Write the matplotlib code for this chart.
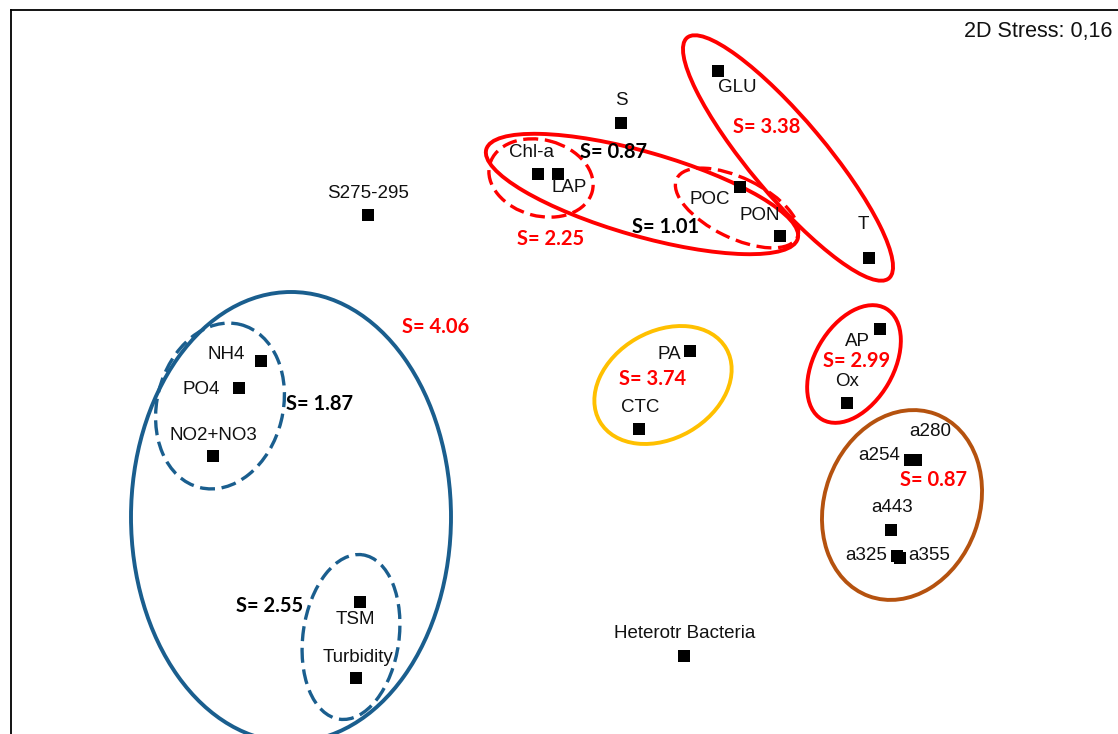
import matplotlib
matplotlib.use("Agg")
import matplotlib.pyplot as plt
from matplotlib.patches import Ellipse

# NMDS ordination (plot units, y grows downward)
names = ["S", "GLU", "Chl-a", "LAP", "POC", "PON", "S275-295", "T",
         "AP", "Ox", "PA", "CTC", "NH4", "PO4", "NO2+NO3",
         "a280", "a254", "a443", "a325", "a355",
         "TSM", "Turbidity", "Heterotr Bacteria"]
xs = [621, 718, 538, 558, 740, 780, 368, 869,
      880, 847, 690, 639, 261, 239, 213,
      916, 910, 891, 897, 900,
      360, 356, 684]
ys = [123, 71, 174, 174, 187, 236, 215, 258,
      329, 403, 351, 429, 361, 388, 456,
      460, 460, 530, 556, 558,
      602, 678, 656]

# label offsets from the point (dx, dy)
label_off = {
    "S": (0, -22), "GLU": (19, 17), "Chl-a": (-6, -21), "LAP": (11, 14),
    "POC": (-30, 13), "PON": (-20, -20), "S275-295": (0, -22), "T": (-6, -33),
    "AP": (-23, 13), "Ox": (0, -21), "PA": (-21, 4), "CTC": (1, -21),
    "NH4": (-35, -6), "PO4": (-38, 1), "NO2+NO3": (0, -21),
    "a280": (14, -29), "a254": (-31, -4), "a443": (1, -22),
    "a325": (-31, -1), "a355": (29, -3),
    "TSM": (-5, 17), "Turbidity": (2, -21), "Heterotr Bacteria": (1, -22),
}

# group ellipses: centre, width, height, angle
ell_cx = [291, 220, 351, 663, 854, 902, 788, 642, 541, 737]
ell_cy = [517, 406, 637, 385, 364, 505, 158, 194, 178, 208]
ell_w = [320, 126, 96, 146, 79, 155, 314, 324, 106, 134]
ell_h = [450, 168, 166, 107, 128, 194, 76, 84, 76, 60]
ell_ang = [0, 14, 8, -30, 30, 20, 50, 16, 15, 26]
ell_col = ["#1a5e8e", "#1a5e8e", "#1a5e8e", "#ffc000", "#ff0000",
           "#b5520f", "#ff0000", "#ff0000", "#ff0000", "#ff0000"]
ell_dash = [False, True, True, False, False, False, False, False, True, True]

# stress values of groups
s_text = ["S= 0.87", "S= 2.25", "S= 1.01", "S= 3.38", "S= 4.06",
          "S= 1.87", "S= 3.74", "S= 2.99", "S= 0.87", "S= 2.55"]
s_x = [614, 551, 666, 767, 436, 319, 653, 857, 933, 270]
s_y = [152, 239, 227, 127, 327, 404, 379, 361, 480, 606]
s_col = ["black", "#ff0000", "black", "#ff0000", "#ff0000",
         "black", "#ff0000", "#ff0000", "#ff0000", "black"]

fig = plt.figure(figsize=(11.18, 7.34), dpi=100)
W, H = 1118, 734
ax = fig.add_axes([11 / W, -20 / H, 1.2, (H - 10 + 20) / H])
ax.set_xlim(11, 11 + 1.2 * W)
ax.set_ylim(H + 20, 10)
ax.set_xticks([])
ax.set_yticks([])
for sp in ax.spines.values():
    sp.set_linewidth(1.3)

for i in range(len(ell_cx)):
    ls = (0, (4.5, 2)) if ell_dash[i] else "-"
    lw = 2.4 if ell_dash[i] else 2.8
    e = Ellipse((ell_cx[i], ell_cy[i]), ell_w[i], ell_h[i], angle=ell_ang[i],
                fill=False, edgecolor=ell_col[i], linewidth=lw, linestyle=ls)
    ax.add_patch(e)

ax.plot(xs, ys, "s", color="black", markersize=9.3, markeredgewidth=0)

for n, x, y in zip(names, xs, ys):
    dx, dy = label_off[n]
    ax.text(x + dx, y + dy, n, ha="center", va="center", fontsize=13.5,
            family="Liberation Sans", color="#111111")

for t, x, y, c in zip(s_text, s_x, s_y, s_col):
    ax.text(x, y, t, ha="center", va="center", fontsize=14.5,
            family="Lato", fontweight="bold", color=c)

ax.text(1112, 32, "2D Stress: 0,16", ha="right", va="center", fontsize=15.5,
        family="Liberation Sans", color="#111111")

fig.savefig("out.png", dpi=100)
